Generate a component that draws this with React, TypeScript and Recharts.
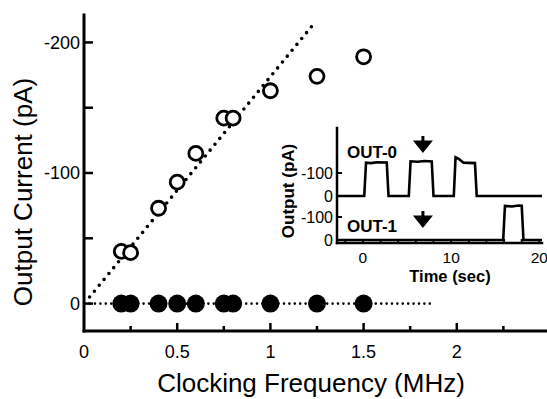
import { ComposedChart, LineChart, Line, XAxis, YAxis, ReferenceDot } from 'recharts';

const FONT = "'Liberation Sans', Arial, Helvetica, sans-serif";

// main panel: output current vs clocking frequency
const FREQ_MHZ = [0.2, 0.25, 0.4, 0.5, 0.6, 0.75, 0.8, 1.0, 1.25, 1.5];
const OUT0_PA = [-40, -39, -73, -93, -115, -142, -142, -163, -174, -189];
const OUT1_PA = [0, 0, 0, 0, 0, 0, 0, 0, 0, 0];
const FIT_MHZ = [0.03, 1.22];
const FIT_PA = [-5, -212];
const ZERO_MHZ = [0.03, 1.86];
const ZERO_PA = [0, 0];
const FREQ_TICKS = [0, 0.25, 0.5, 0.75, 1, 1.25, 1.5, 1.75, 2, 2.25, 2.5];
const FREQ_LABELS = [0, 0.5, 1, 1.5, 2];
const CURRENT_TICKS = [-200, -150, -100, -50, 0];
const CURRENT_LABELS = [-200, -100, 0];

// inset: output traces vs time
const OUT0_T = [-2.94, 0.15, 0.35, 0.9, 1.6, 2.7, 2.9, 5.2, 5.4, 6.2, 7.0, 7.8, 8.0, 10.3, 10.5, 10.9, 11.4, 12.7, 12.9, 20.3];
const OUT0_TRACE = [0, 0, -145, -143, -147, -146, 0, 0, -151, -149, -152, -150, 0, 0, -168, -160, -145, -143, 0, 0];
const OUT1_T = [-2.94, 15.9, 16.1, 16.9, 17.6, 18.0, 18.2, 20.3];
const OUT1_TRACE = [0, 0, -148, -146, -150, -149, 0, 0];
const TIME_TICKS = [-2, 0, 2, 4, 6, 8, 10, 12, 14, 16, 18, 20];
const TIME_LABELS = [0, 10, 20];
const INSET_TICKS = [-100, 0];
const ARROW_T = 6.8;

const mainRows = FREQ_MHZ.map((f, i) => ({ f, out0: OUT0_PA[i], out1: OUT1_PA[i] }));
const fitRows = FIT_MHZ.map((f, i) => ({ f, fit: FIT_PA[i] }));
const zeroRows = ZERO_MHZ.map((f, i) => ({ f, zero: ZERO_PA[i] }));
const out0Rows = OUT0_T.map((t, i) => ({ t, pa: OUT0_TRACE[i] }));
const out1Rows = OUT1_T.map((t, i) => ({ t, pa: OUT1_TRACE[i] }));

const TIME_DOMAIN = [-2.94, 20.3];
const OUT0_DOMAIN = [-295.7, 204.3];
const OUT1_DOMAIN = [-487, 13];

const axisLine = (w: number) => ({ stroke: '#000', strokeWidth: w, strokeLinecap: 'square' as const });

function MainYTick({ x, y, payload }: any) {
  const v = payload.value;
  const ax = x + 4;
  return (
    <g>
      <line x1={ax} x2={ax + 9} y1={y} y2={y} stroke="#000" strokeWidth={2.5} />
      {CURRENT_LABELS.includes(v) && (
        <text x={x} y={y} dy="0.36em" textAnchor="end" fontSize={18} fontFamily={FONT} fill="#000">
          {v}
        </text>
      )}
    </g>
  );
}

function MainXTick({ x, y, payload }: any) {
  const v = payload.value;
  const major = FREQ_LABELS.includes(v);
  return (
    <g>
      {v > 0 && v < 2.5 && (
        <line x1={x} x2={x} y1={y} y2={y - (major ? 8 : 5)} stroke="#000" strokeWidth={2.5} />
      )}
      {major && (
        <text x={x} y={y + 27} textAnchor="middle" fontSize={18} fontFamily={FONT} fill="#000">
          {v}
        </text>
      )}
    </g>
  );
}

function MainTopTick({ x, y, payload }: any) {
  const v = payload.value;
  if (v <= 0 || v >= 2.5) return <g />;
  return <line x1={x} x2={x} y1={y} y2={y + 8} stroke="#000" strokeWidth={2.5} />;
}

function InsetYTick({ x, y, payload }: any) {
  const ax = x + 4;
  return (
    <g>
      <line x1={ax} x2={ax + 5} y1={y} y2={y} stroke="#000" strokeWidth={2} />
      <text x={x} y={y} dy="0.36em" textAnchor="end" fontSize={16} fontFamily={FONT} fill="#000">
        {payload.value}
      </text>
    </g>
  );
}

function InsetRightTick({ x, y }: any) {
  return <line x1={x} x2={x - 5} y1={y} y2={y} stroke="#000" strokeWidth={2} />;
}

function InsetXTick({ x, y, payload }: any) {
  const v = payload.value;
  return (
    <g>
      <line x1={x} x2={x} y1={y} y2={y - 4} stroke="#000" strokeWidth={2} />
      {TIME_LABELS.includes(v) && (
        <text x={x} y={y + 20} textAnchor="middle" fontSize={15.5} fontFamily={FONT} fill="#000">
          {v}
        </text>
      )}
    </g>
  );
}

function InsetTopTick({ x, y }: any) {
  return <line x1={x} x2={x} y1={y} y2={y + 5} stroke="#000" strokeWidth={2} />;
}

function Title({ tx, ty, size, bold, rotate, text }: any) {
  return (
    <text
      x={tx}
      y={ty}
      transform={rotate ? `rotate(-90 ${tx} ${ty})` : undefined}
      textAnchor="middle"
      fontSize={size}
      fontWeight={bold ? 'bold' : 'normal'}
      fontFamily={FONT}
      fill="#000"
    >
      {text}
    </text>
  );
}

function Arrow({ cx, cy }: any) {
  return (
    <g>
      <rect x={cx - 1.5} y={cy - 17} width={3} height={5} fill="#000" />
      <polygon points={`${cx - 10},${cy - 12.5} ${cx + 10},${cy - 12.5} ${cx},${cy}`} fill="#000" />
    </g>
  );
}

function TraceName({ cx, cy, name }: any) {
  return (
    <text x={cx} y={cy} fontSize={17} fontWeight="bold" fontFamily={FONT} fill="#000">
      {name}
    </text>
  );
}

const layer = { position: 'absolute' as const, left: 0, top: 0 };

export default function App() {
  return (
    <div style={{ position: 'absolute', left: 0, top: 0, width: 547, height: 399, overflow: 'hidden', background: '#fff' }}>
      <div style={layer}>
        <ComposedChart width={570} height={399} data={mainRows} margin={{ top: 15, right: 20, bottom: 0, left: 0 }}>
          <XAxis
            type="number"
            dataKey="f"
            domain={[0, 2.5]}
            allowDataOverflow
            ticks={FREQ_TICKS}
            interval={0}
            height={68}
            tickSize={0}
            tickMargin={0}
            tick={(p: any) => <MainXTick {...p} />}
            axisLine={axisLine(3)}
            label={<Title tx={311} ty={392} size={26} text="Clocking Frequency (MHz)" />}
          />
          <XAxis
            xAxisId="top"
            orientation="top"
            type="number"
            domain={[0, 2.5]}
            allowDataOverflow
            ticks={FREQ_TICKS}
            interval={0}
            height={0}
            tickSize={0}
            tickMargin={0}
            tick={(p: any) => <MainTopTick {...p} />}
            axisLine={axisLine(3)}
          />
          <YAxis
            type="number"
            domain={[-221, 21]}
            reversed
            allowDataOverflow
            ticks={CURRENT_TICKS}
            interval={0}
            width={84}
            tickSize={0}
            tickMargin={4}
            tick={(p: any) => <MainYTick {...p} />}
            axisLine={axisLine(3)}
            label={<Title tx={31.5} ty={192} size={26} rotate text="Output Current (pA)" />}
          />
          <Line data={fitRows} dataKey="fit" stroke="#000" strokeWidth={3.6} strokeDasharray="0 7.6" strokeLinecap="round" dot={false} activeDot={false} isAnimationActive={false} />
          <Line data={zeroRows} dataKey="zero" stroke="#000" strokeWidth={2.6} strokeDasharray="0 5.4" strokeLinecap="round" dot={false} activeDot={false} isAnimationActive={false} />
          <Line dataKey="out0" stroke="none" dot={{ r: 7, fill: '#fff', stroke: '#000', strokeWidth: 2.8 }} activeDot={false} isAnimationActive={false} />
          <Line dataKey="out1" stroke="none" dot={{ r: 9, fill: '#000', stroke: 'none' }} activeDot={false} isAnimationActive={false} />
        </ComposedChart>
      </div>

      <div style={layer}>
        <LineChart width={547} height={399} data={out0Rows} margin={{ top: 128, right: 5, bottom: 156, left: 0 }}>
          <XAxis type="number" dataKey="t" domain={TIME_DOMAIN} allowDataOverflow hide />
          <YAxis
            type="number"
            domain={OUT0_DOMAIN}
            reversed
            allowDataOverflow
            ticks={INSET_TICKS}
            interval={0}
            width={337}
            tickSize={0}
            tickMargin={4}
            tick={(p: any) => <InsetYTick {...p} />}
            axisLine={false}
          />
          <YAxis
            yAxisId="r"
            orientation="right"
            type="number"
            domain={OUT0_DOMAIN}
            reversed
            allowDataOverflow
            ticks={[-100]}
            width={0}
            tickSize={0}
            tickMargin={0}
            tick={(p: any) => <InsetRightTick {...p} />}
            axisLine={false}
          />
          <Line dataKey="pa" stroke="#000" strokeWidth={2.6} dot={false} activeDot={false} isAnimationActive={false} />
          <ReferenceDot x={-1.81} y={-165} r={0} shape={(p: any) => <TraceName {...p} name="OUT-0" />} />
          <ReferenceDot x={ARROW_T} y={-187} r={0} shape={(p: any) => <Arrow {...p} />} />
        </LineChart>
      </div>

      <div style={layer}>
        <LineChart width={547} height={399} data={out1Rows} margin={{ top: 128, right: 5, bottom: 0, left: 0 }}>
          <XAxis
            type="number"
            dataKey="t"
            domain={TIME_DOMAIN}
            allowDataOverflow
            ticks={TIME_TICKS}
            interval={0}
            height={156}
            tickSize={0}
            tickMargin={0}
            tick={(p: any) => <InsetXTick {...p} />}
            axisLine={axisLine(2.5)}
            label={<Title tx={450} ty={282} size={16.5} bold text="Time (sec)" />}
          />
          <XAxis
            xAxisId="top"
            orientation="top"
            type="number"
            domain={TIME_DOMAIN}
            allowDataOverflow
            ticks={TIME_TICKS}
            interval={0}
            height={0}
            tickSize={0}
            tickMargin={0}
            tick={(p: any) => <InsetTopTick {...p} />}
            axisLine={axisLine(2.5)}
          />
          <YAxis
            type="number"
            domain={OUT1_DOMAIN}
            reversed
            allowDataOverflow
            ticks={INSET_TICKS}
            interval={0}
            width={337}
            tickSize={0}
            tickMargin={4}
            tick={(p: any) => <InsetYTick {...p} />}
            axisLine={axisLine(2.5)}
            label={<Title tx={294} ty={191} size={17} bold rotate text="Output (pA)" />}
          />
          <YAxis
            yAxisId="r"
            orientation="right"
            type="number"
            domain={OUT1_DOMAIN}
            reversed
            allowDataOverflow
            ticks={[-100]}
            width={0}
            tickSize={0}
            tickMargin={0}
            tick={(p: any) => <InsetRightTick {...p} />}
            axisLine={axisLine(2.5)}
          />
          <Line dataKey="pa" stroke="#000" strokeWidth={2.6} dot={false} activeDot={false} isAnimationActive={false} />
          <ReferenceDot x={-1.81} y={-35} r={0} shape={(p: any) => <TraceName {...p} name="OUT-1" />} />
          <ReferenceDot x={ARROW_T} y={-52} r={0} shape={(p: any) => <Arrow {...p} />} />
        </LineChart>
      </div>
    </div>
  );
}
